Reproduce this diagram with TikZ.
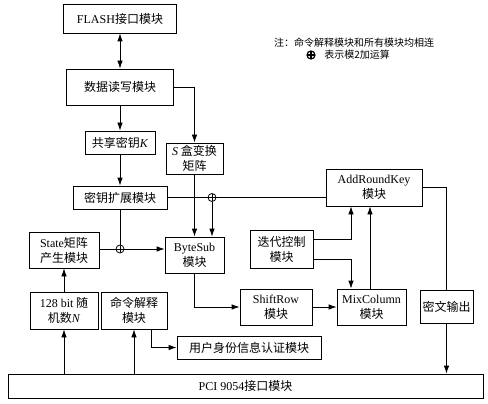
\documentclass[tikz,border=0pt]{standalone}
\usepackage{fontspec}
\setmainfont{Liberation Serif}
\newfontfamily\cjk{Noto Sans CJK SC}
\usetikzlibrary{arrows.meta}
\newcommand{\eng}[1]{{\rmfamily #1}}

\begin{document}
\begin{tikzpicture}[x=1pt,y=-1pt,line width=0.8pt,
  >={Latex[length=8pt,width=5.5pt]},
  blk/.style={draw,inner sep=0pt,align=center,
    font=\fontsize{12}{15}\selectfont\cjk},
  xor/.style={circle,draw,inner sep=0pt,minimum size=8pt,
    path picture={\draw (path picture bounding box.north) -- (path picture bounding box.south)
      (path picture bounding box.west) -- (path picture bounding box.east);}},
  note/.style={inner sep=0pt,font=\fontsize{10}{12}\selectfont\cjk}]
  \useasboundingbox (0,0) rectangle (488,404);
  % boxes
  \node[blk,minimum width=113,minimum height=29] (flash) at (120,18.5) {\eng{FLASH}接口模块};
  \node[blk,minimum width=107,minimum height=36] (rw) at (120,87) {数据读写模块};
  \node[blk,minimum width=70,minimum height=23] (key) at (120,142.5) {共享密钥\eng{\itshape K}};
  \node[blk,minimum width=57,minimum height=31] (sbox) at (194.5,158.5) {\eng{\itshape S} 盒变换\\矩阵};
  \node[blk,minimum width=94,minimum height=23] (keyexp) at (120,197.5) {密钥扩展模块};
  \node[blk,minimum width=96,minimum height=37] (ark) at (374,187.5) {\eng{AddRoundKey}\\模块};
  \node[blk,minimum width=70,minimum height=36] (state) at (64,250) {\eng{State}矩阵\\产生模块};
  \node[blk,minimum width=59,minimum height=36] (bytesub) at (194.5,255) {\eng{ByteSub}\\模块};
  \node[blk,minimum width=63,minimum height=38] (iter) at (281.5,249) {迭代控制\\模块};
  \node[blk,minimum width=72,minimum height=36] (shiftrow) at (276,307) {\eng{ShiftRow}\\模块};
  \node[blk,minimum width=69,minimum height=36] (mixcol) at (371.5,307) {\eng{MixColumn}\\模块};
  \node[blk,minimum width=53,minimum height=33] (cipher) at (446.5,306.5) {密文输出};
  \node[blk,minimum width=68,minimum height=37] (rand) at (64,310.5) {\eng{128 bit} 随\\机数\eng{\itshape N}};
  \node[blk,minimum width=66,minimum height=37] (cmd) at (134,310.5) {命令解释\\模块};
  \node[blk,minimum width=144,minimum height=23] (user) at (249,347.5) {用户身份信息认证模块};
  \node[blk,minimum width=475,minimum height=24] (pci) at (245.5,386) {\eng{PCI 9054}接口模块};
  % mod-2 adders
  \node[xor] (ox1) at (212,197.5) {};
  \node[xor] (ox2) at (120,249) {};
  % note
  \node[note] (note1) at (354,43) {注：命令解释模块和所有模块均相连};
  \node[xor,line width=1.2pt] (leg) at (311,55) {};
  \node[note,anchor=west] (legtxt) at (324,55) {表示模2加运算};
  % connectors
  \draw[<->] (flash) -- (rw);
  \draw[->] (rw) -- (key);
  \draw[->] (key) -- (keyexp);
  \draw[->] (rw.east) -| (sbox.north);
  \draw[->] (sbox) -- (bytesub);
  \draw (keyexp) -- (ox1);
  \draw (ox1) -- (ox1 -| ark.west);
  \draw[->] (ox1) -- (ox1 |- bytesub.north);
  \draw (keyexp) -- (ox2);
  \draw (state.east |- ox2) -- (ox2);
  \draw[->] (ox2) -- (ox2 -| bytesub.west);
  \draw[->] (bytesub.south) |- (shiftrow.west);
  \draw[->] (shiftrow) -- (mixcol);
  \draw[->] ([yshift=10pt]iter.east) -| ([xshift=-23pt]ark.south);
  \draw[->] ([yshift=-10pt]iter.east) -| ([xshift=-20.5pt]mixcol.north);
  \draw[->] ([xshift=-1.5pt]mixcol.north) -- ([xshift=-4pt]ark.south);
  \draw (ark.east) -| (cipher.north);
  \draw[->] (cipher.south) -- (cipher.south |- pci.north);
  \draw[->] (rand) -- (state);
  \draw[->] (pci.north -| rand.south) -- (rand.south);
  \draw[->] (pci.north -| cmd.south) -- (cmd.south);
  \draw[->] ([xshift=17pt]cmd.south) |- (user.west);
\end{tikzpicture}
\end{document}
